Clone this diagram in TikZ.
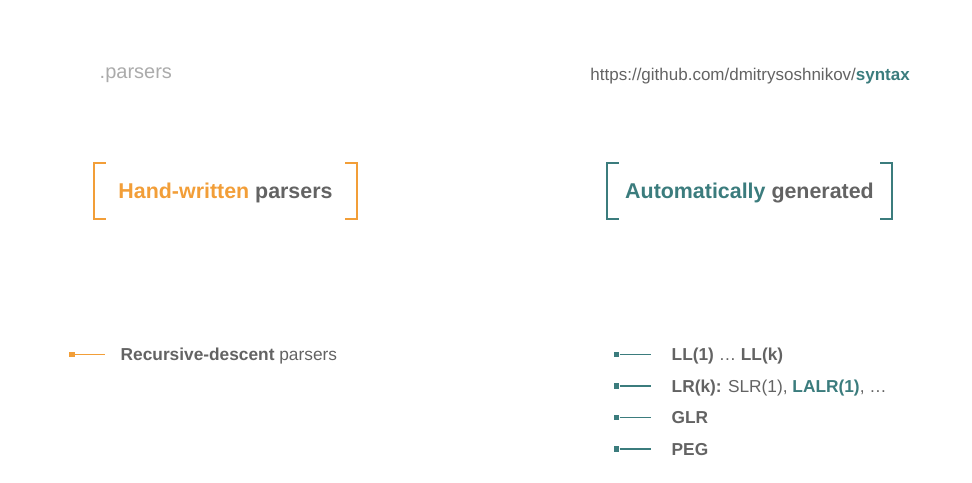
\documentclass[tikz,border=0pt]{standalone}
\usepackage{fontspec}
\setmainfont{Liberation Sans}
\usetikzlibrary{positioning}
\definecolor{handorange}{HTML}{F29E38}
\definecolor{autoteal}{HTML}{3B7C7D}
\definecolor{textgray}{HTML}{636363}
\definecolor{palegray}{HTML}{ABABAB}
\tikzset{
  heading/.style={inner sep=0pt, text height=15pt, text depth=0pt, text=textgray,
    font=\fontsize{21.4}{25}\selectfont\bfseries},
  entry/.style={anchor=west, inner sep=0pt, text height=12.5pt, text depth=0pt, text=textgray,
    font=\fontsize{17.3}{21}\selectfont},
  dotbox/.style={fill=#1, minimum size=5.5pt, inner sep=0pt},
  stem/.style={draw=#1, line width=1.5pt},
  bracket/.style={draw=#1, line width=1.5pt}
}

\begin{document}
\begin{tikzpicture}[x=1pt, y=-1pt, node distance=52pt]
  \useasboundingbox (0,0) rectangle (972,482);
  \node (topic) [anchor=base west, inner sep=0pt, text=palegray, font=\fontsize{20}{24}\selectfont] at (99.5,78) {.parsers};
  \node (url) [anchor=base east, inner sep=0pt, text=textgray, font=\fontsize{17}{20}\selectfont] at (910,80.5)
    {https://github.com/dmitrysoshnikov/\textbf{\textcolor{autoteal}{syntax}}};

  \node (hand) [heading, minimum width=263pt, minimum height=56pt] at (225.5,191)
    {\textcolor{handorange}{Hand-written} parsers};
  \node (auto) [heading, minimum width=285pt, minimum height=56pt] at (749.5,191)
    {\textcolor{autoteal}{Automatically} generated};
  \draw[bracket=handorange] ([xshift=12pt]hand.north west) -| (hand.south west) -- ++(12pt,0);
  \draw[bracket=handorange] ([xshift=-12pt]hand.north east) -| (hand.south east) -- ++(-12pt,0);
  \draw[bracket=autoteal] ([xshift=12pt]auto.north west) -| (auto.south west) -- ++(12pt,0);
  \draw[bracket=autoteal] ([xshift=-12pt]auto.north east) -| (auto.south east) -- ++(-12pt,0);

  \node (rd) [entry] at (120.5,354.5) {\textbf{Recursive-descent} parsers};
  \node (m0) [dotbox=handorange, left=45.5pt of rd] {};
  \draw[stem=handorange] (m0.east) -- ([xshift=-15.5pt]rd.west);

  \node (ll) [entry] at (671.5,354.5) {\textbf{LL(1)} … \textbf{LL(k)}};
  \node (lr) [entry] at (671.5,386) {\textbf{LR(k):} SLR(1), \textbf{\textcolor{autoteal}{LALR(1)}}, …};
  \node (glr) [entry] at (671.5,417.5) {\textbf{GLR}};
  \node (peg) [entry] at (671.5,449) {\textbf{PEG}};
  \foreach \t in {ll,lr,glr,peg} {
    \node (m-\t) [dotbox=autoteal, left=52pt of \t] {};
    \draw[stem=autoteal] (m-\t.east) -- ([xshift=-21pt]\t.west);
  }
\end{tikzpicture}
\end{document}
